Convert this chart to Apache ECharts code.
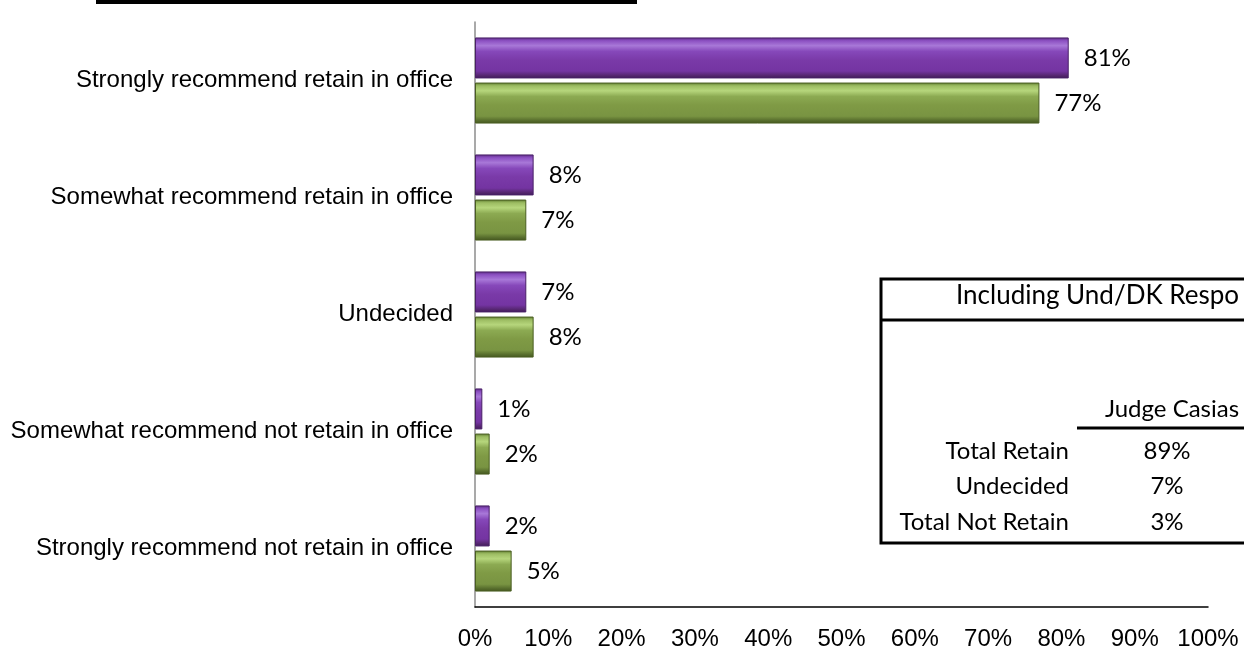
<!DOCTYPE html>
<html>
<head>
<meta charset="utf-8">
<script src="https://cdn.jsdelivr.net/npm/echarts@6/dist/echarts.min.js"></script>
<style>
  html, body { margin: 0; padding: 0; background: #fff; }
  #chart { width: 1244px; height: 652px; }
</style>
</head>
<body>
<div id="chart"></div>
<script>
// categories, top to bottom
const categories = [
  'Strongly recommend retain in office',
  'Somewhat recommend retain in office',
  'Undecided',
  'Somewhat recommend not retain in office',
  'Strongly recommend not retain in office'
]
const purpleValues = [81, 8, 7, 1, 2]
const greenValues = [77, 7, 8, 2, 5]

// summary table
const tableTitle = 'Including Und/DK Respo'
const tableHeader = 'Judge Casias'
const tableRows = ['Total Retain', 'Undecided', 'Total Not Retain']
const tableValues = ['89%', '7%', '3%']

const labelFont = 'Lato, "Open Sans", sans-serif'

// bevel-ish vertical gradient for the bars
function bevel(stops) {
  return new echarts.graphic.LinearGradient(0, 0, 0, 1, stops.map((c, i) => ({
    offset: [0, 0.08, 0.2, 0.34, 0.55, 0.82, 0.93, 1][i],
    color: c
  })))
}
const purpleFill = bevel(['#5a2a82', '#8c50c2', '#a878d8', '#8648ba', '#7a3aa8', '#7434a2', '#55266f', '#3e1a58'])
const greenFill = bevel(['#5c7a2e', '#9cbc62', '#b6d67c', '#8caa52', '#7f9a45', '#799442', '#566c2c', '#44561f'])

const chart = echarts.init(document.getElementById('chart'))

const barLabel = {
  show: true,
  position: 'right',
  distance: 15,
  formatter: '{c}%',
  fontFamily: labelFont,
  fontSize: 24,
  color: '#000'
}

// table graphics
const rowY = [451, 486, 522]
const tableGraphics = [
  // cropped title underline at very top
  { type: 'rect', shape: { x: 96, y: 0, width: 541, height: 4 }, style: { fill: '#000' } },
  { type: 'rect', shape: { x: 881, y: 279, width: 420, height: 264 }, style: { fill: '#fff', stroke: '#000', lineWidth: 3 } },
  { type: 'line', shape: { x1: 880, y1: 320, x2: 1244, y2: 320 }, style: { stroke: '#000', lineWidth: 3 } },
  { type: 'text', left: 956, top: 283, style: { text: tableTitle, font: '26px ' + labelFont, fill: '#000' } },
  { type: 'text', x: 1172, y: 409, style: { text: tableHeader, font: '24px ' + labelFont, fill: '#000', align: 'center', verticalAlign: 'middle' } },
  { type: 'line', shape: { x1: 1077, y1: 428, x2: 1244, y2: 428 }, style: { stroke: '#000', lineWidth: 3 } }
]
tableRows.forEach((name, i) => {
  tableGraphics.push({ type: 'text', x: 1069, y: rowY[i], style: { text: name, font: '24px ' + labelFont, fill: '#000', align: 'right', verticalAlign: 'middle' } })
  tableGraphics.push({ type: 'text', x: 1167, y: rowY[i], style: { text: tableValues[i], font: '24px ' + labelFont, fill: '#000', align: 'center', verticalAlign: 'middle' } })
})

const option = {
  animation: false,
  grid: { left: 475, right: 36, top: 22, bottom: 45, containLabel: false },
  xAxis: {
    type: 'value',
    min: 0,
    max: 100,
    interval: 10,
    axisLine: { show: true, lineStyle: { color: '#000', width: 1.5 } },
    axisTick: { show: false },
    splitLine: { show: false },
    axisLabel: {
      formatter: '{value}%',
      fontFamily: '"Liberation Sans", Arial, sans-serif',
      fontSize: 24,
      color: '#000',
      margin: 20
    }
  },
  yAxis: {
    type: 'category',
    data: categories,
    inverse: true,
    axisLine: { show: true, lineStyle: { color: '#8c8c8c', width: 1.5 } },
    axisTick: { show: false },
    axisLabel: {
      fontFamily: '"Liberation Sans", Arial, sans-serif',
      fontSize: 24,
      color: '#000',
      margin: 22
    }
  },
  series: [
    {
      type: 'bar',
      data: purpleValues,
      barWidth: 41,
      barGap: '10%',
      itemStyle: { color: purpleFill, borderColor: '#4a2068', borderWidth: 1 },
      label: barLabel
    },
    {
      type: 'bar',
      data: greenValues,
      barWidth: 41,
      barGap: '10%',
      itemStyle: { color: greenFill, borderColor: '#4a5e22', borderWidth: 1 },
      label: barLabel
    }
  ],
  graphic: tableGraphics
}

chart.setOption(option)
</script>
</body>
</html>
